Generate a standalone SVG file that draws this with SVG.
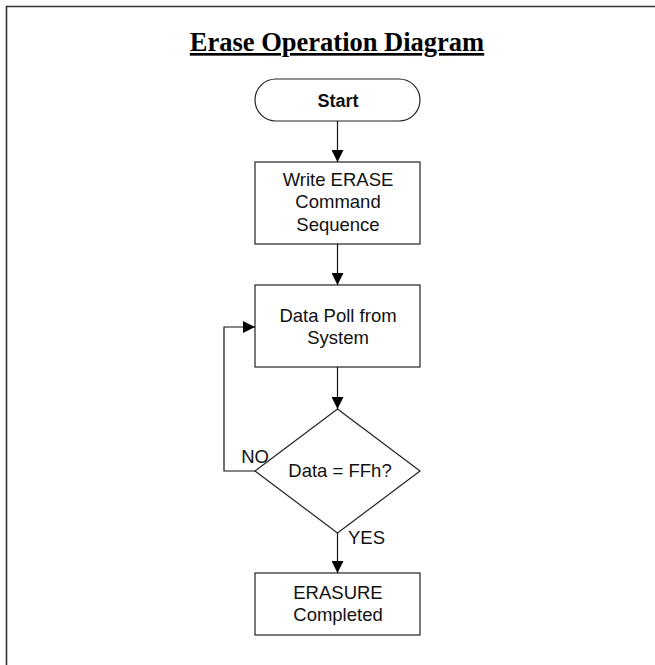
<svg xmlns="http://www.w3.org/2000/svg" width="655" height="665" viewBox="0 0 655 665">
<defs>
<marker id="ah" markerWidth="12" markerHeight="12" refX="12" refY="6" orient="auto" markerUnits="userSpaceOnUse">
<path d="M0,0 L12,6 L0,12 Z" fill="#000"/>
</marker>
<style>
.shape{fill:#fff;stroke:#222;stroke-width:1.2}
.lbl{font-family:"Liberation Sans",Arial,sans-serif;font-size:18.5px;fill:#111;text-anchor:middle}
.edge{fill:none;stroke:#111;stroke-width:1.2;marker-end:url(#ah)}
.title{font-family:"Liberation Serif","Times New Roman",serif;font-size:26.5px;font-weight:bold;fill:#000;text-anchor:middle;text-decoration:underline}
</style>
</defs>
<rect width="655" height="665" fill="#fff"/>
<path d="M6.5,665 V6.5 H655" fill="none" stroke="#333" stroke-width="1.6"/>
<text class="title" x="337" y="51">Erase Operation Diagram</text>
<g id="start">
<rect class="shape" x="255" y="79" width="165" height="42" rx="21" ry="21"/>
<text class="lbl" x="338" y="107" font-weight="bold" style="font-size:18px">Start</text>
</g>
<g id="write">
<rect class="shape" x="255" y="162" width="165" height="82"/>
<text class="lbl" x="338" y="186">Write ERASE</text>
<text class="lbl" x="338" y="208">Command</text>
<text class="lbl" x="338" y="231">Sequence</text>
</g>
<g id="poll">
<rect class="shape" x="255" y="285" width="165" height="82"/>
<text class="lbl" x="338" y="322">Data Poll from</text>
<text class="lbl" x="338" y="344">System</text>
</g>
<g id="decision">
<path class="shape" d="M337.5,409 L420,471 L337.5,533 L255,471 Z"/>
<text class="lbl" x="340" y="477">Data = FFh?</text>
</g>
<g id="done">
<rect class="shape" x="255" y="573" width="165" height="62"/>
<text class="lbl" x="338" y="599">ERASURE</text>
<text class="lbl" x="338" y="621">Completed</text>
</g>
<g id="connectors">
<path class="edge" d="M337.5,121 V162"/>
<path class="edge" d="M337.5,244 V285"/>
<path class="edge" d="M337.5,367 V409"/>
<path class="edge" d="M337.5,533 V573"/>
<path class="edge" d="M255,471 H224 V327 H255"/>
<text class="lbl" x="255" y="463">NO</text>
<text class="lbl" x="348" y="544" style="text-anchor:start">YES</text>
</g>
</svg>
